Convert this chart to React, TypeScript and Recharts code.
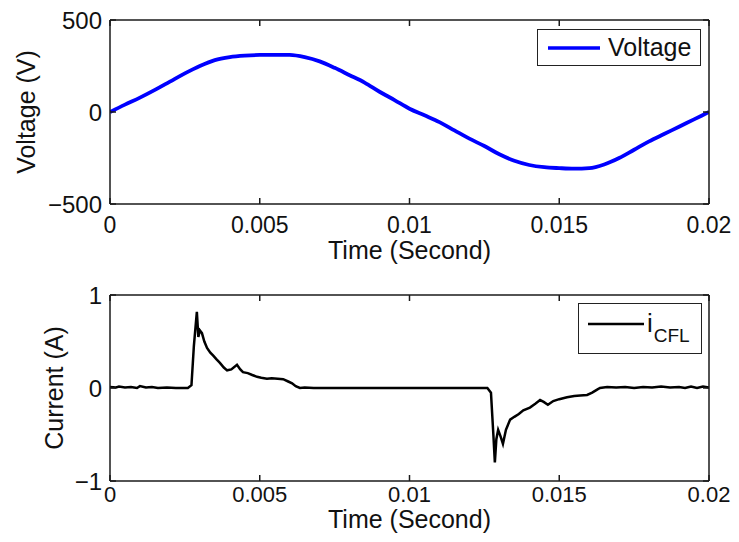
import React from 'react';
import { LineChart, Line, XAxis, YAxis, Legend } from 'recharts';

const timeTicks = [0, 0.005, 0.01, 0.015, 0.02];
const voltageTicks = [-500, 0, 500];
const currentTicks = [-1, 0, 1];

const voltageTime = [
  0, 0.0005, 0.001, 0.0015, 0.002, 0.0025, 0.003, 0.0035, 0.004, 0.0045,
  0.005, 0.0055, 0.006, 0.0065, 0.007, 0.0075, 0.008, 0.0085, 0.009, 0.0095,
  0.01, 0.0105, 0.011, 0.0115, 0.012, 0.0125, 0.013, 0.0135, 0.014, 0.0145,
  0.015, 0.0155, 0.016, 0.0165, 0.017, 0.0175, 0.018, 0.0185, 0.019, 0.0195, 0.02,
];
const voltageValues = [
  0, 40, 78, 120, 165, 210, 250, 282, 298, 306,
  310, 311, 310, 298, 275, 240, 200, 160, 110, 65,
  18, -18, -55, -100, -145, -185, -230, -265, -288, -300,
  -305, -308, -305, -285, -250, -205, -160, -120, -80, -40, 0,
];

const currentTime = [
  0, 0.0002, 0.0003, 0.0005, 0.0007, 0.0009, 0.001, 0.0012, 0.0014, 0.0016,
  0.0019, 0.0022, 0.0026, 0.00272, 0.0028, 0.0029, 0.00295, 0.003, 0.00307, 0.00315,
  0.00324, 0.00335, 0.00344, 0.00355, 0.00367, 0.0038, 0.00391, 0.00405, 0.00424, 0.00435,
  0.00444, 0.0046, 0.00475, 0.00491, 0.00505, 0.00524, 0.0054, 0.0056, 0.00578, 0.00595,
  0.00608, 0.0062, 0.00634, 0.0065, 0.0068, 0.0075, 0.01, 0.0126, 0.01272, 0.0128,
  0.01285, 0.0129, 0.01296, 0.01304, 0.01312, 0.01322, 0.01336, 0.0135, 0.01365, 0.0138,
  0.01402, 0.0142, 0.01436, 0.01448, 0.01462, 0.0148, 0.015, 0.01526, 0.0155, 0.0157,
  0.01593, 0.0161, 0.01625, 0.01636, 0.0166, 0.0169, 0.0172, 0.0175, 0.0178, 0.0181,
  0.0184, 0.0187, 0.019, 0.0192, 0.0194, 0.0196, 0.0198, 0.02,
];
const currentValues = [
  0.01, 0.005, 0.015, 0.005, 0.01, 0.0, 0.02, 0.005, 0.01, 0.0,
  0.005, 0.0, 0.0, 0.03, 0.45, 0.82, 0.55, 0.62, 0.59, 0.5,
  0.43, 0.38, 0.35, 0.31, 0.27, 0.22, 0.19, 0.2, 0.25, 0.2,
  0.17, 0.16, 0.14, 0.12, 0.11, 0.1, 0.105, 0.1, 0.095, 0.07,
  0.05, 0.02, 0.0, 0.005, 0.0, 0.0, 0.0, 0.0, -0.05, -0.5,
  -0.8, -0.55, -0.45, -0.52, -0.6, -0.45, -0.34, -0.31, -0.28, -0.24,
  -0.21, -0.17, -0.13, -0.15, -0.18, -0.14, -0.12, -0.1, -0.085, -0.08,
  -0.075, -0.05, -0.02, 0.0, 0.01, 0.005, 0.01, 0.0, 0.01, 0.005,
  0.015, 0.005, 0.01, 0.0, 0.015, 0.0, 0.015, 0.005,
];

const voltageData = voltageTime.map((t, k) => ({ t, v: voltageValues[k] }));
const currentData = currentTime.map((t, k) => ({ t, i: currentValues[k] }));

const FONT = '"Liberation Sans", Arial, Helvetica, sans-serif';
const AXIS = '#1a1a1a';
const TEXT = '#111';

const fmtX = (v: number) => String(v);
const fmtY = (v: number) => (v < 0 ? '\u2212' + Math.abs(v) : String(v));
const blank = () => '';

const yTitle = (text: string, cx: number) => (props: any) => {
  const vb = props.viewBox || {};
  const cy = (vb.y || 0) + (vb.height || 0) / 2;
  return (
    <text
      x={cx}
      y={cy}
      transform={`rotate(-90 ${cx} ${cy})`}
      textAnchor="middle"
      dominantBaseline="central"
      fontSize={25}
      fill={TEXT}
      fontFamily={FONT}
    >
      {text}
    </text>
  );
};

const VoltageLegend = () => (
  <div
    style={{
      width: 164,
      height: 37,
      border: '1.5px solid #222',
      background: '#fff',
      display: 'flex',
      alignItems: 'center',
      boxSizing: 'border-box',
      fontFamily: FONT,
    }}
  >
    <svg width={70} height={20} style={{ display: 'block' }}>
      <line x1={10} y1={10} x2={62} y2={10} stroke="#0000ff" strokeWidth={3.5} />
    </svg>
    <span style={{ fontSize: 25, color: TEXT, lineHeight: '25px' }}>Voltage</span>
  </div>
);

const CurrentLegend = () => (
  <div
    style={{
      width: 124,
      height: 51,
      border: '1.5px solid #222',
      background: '#fff',
      display: 'flex',
      alignItems: 'center',
      boxSizing: 'border-box',
      fontFamily: FONT,
    }}
  >
    <svg width={68} height={20} style={{ display: 'block' }}>
      <line x1={9} y1={5} x2={65} y2={5} stroke="#000" strokeWidth={2.5} />
    </svg>
    <span style={{ fontSize: 26, color: TEXT, lineHeight: '26px', marginTop: -8, whiteSpace: 'nowrap' }}>
      i
      <span style={{ fontSize: 19, position: 'relative', top: 10, marginLeft: 1 }}>CFL</span>
    </span>
  </div>
);

export default function App() {
  return (
    <div
      style={{
        position: 'absolute',
        left: 0,
        top: 0,
        width: 739,
        height: 542,
        background: '#fff',
        fontFamily: FONT,
      }}
    >
      <div style={{ position: 'absolute', left: 0, top: 0 }}>
        <LineChart width={739} height={270} data={voltageData} margin={{ top: 19, right: 29, bottom: 0, left: 0 }}>
          <XAxis
            dataKey="t"
            type="number"
            domain={[0, 0.02]}
            allowDataOverflow
            ticks={timeTicks}
            tickFormatter={fmtX}
            height={66}
            tickSize={-6}
            tickMargin={19}
            stroke={AXIS}
            strokeWidth={1.5}
            tick={{ fontSize: 23, fill: TEXT }}
            label={{ value: 'Time (Second)', position: 'insideBottom', offset: 11, fontSize: 25, fill: TEXT }}
          />
          <XAxis
            xAxisId="top"
            dataKey="t"
            orientation="top"
            type="number"
            domain={[0, 0.02]}
            allowDataOverflow
            ticks={timeTicks}
            tickFormatter={blank}
            height={1}
            tickSize={-6}
            stroke={AXIS}
            strokeWidth={1.5}
          />
          <YAxis
            type="number"
            domain={[-500, 500]}
            allowDataOverflow
            ticks={voltageTicks}
            tickFormatter={fmtY}
            width={110}
            tickSize={-6}
            tickMargin={14}
            stroke={AXIS}
            strokeWidth={1.5}
            tick={{ fontSize: 24, fill: TEXT }}
            label={{ content: yTitle('Voltage (V)', 26) }}
          />
          <YAxis
            yAxisId="right"
            orientation="right"
            type="number"
            domain={[-500, 500]}
            allowDataOverflow
            ticks={voltageTicks}
            tickFormatter={blank}
            width={1}
            tickSize={-6}
            stroke={AXIS}
            strokeWidth={1.5}
          />
          <Legend
            layout="horizontal"
            verticalAlign="middle"
            align="center"
            content={VoltageLegend}
            wrapperStyle={{ left: 537, top: 29, width: 164, height: 37 }}
          />
          <Line
            type="monotone"
            dataKey="v"
            name="Voltage"
            stroke="#0000ff"
            strokeWidth={3.8}
            dot={false}
            isAnimationActive={false}
          />
        </LineChart>
      </div>
      <div style={{ position: 'absolute', left: 0, top: 270 }}>
        <LineChart width={739} height={272} data={currentData} margin={{ top: 24, right: 29, bottom: 0, left: 0 }}>
          <XAxis
            dataKey="t"
            type="number"
            domain={[0, 0.02]}
            allowDataOverflow
            ticks={timeTicks}
            tickFormatter={fmtX}
            height={61}
            tickSize={-6}
            tickMargin={11}
            stroke={AXIS}
            strokeWidth={1.5}
            tick={{ fontSize: 22, fill: TEXT }}
            label={{ value: 'Time (Second)', position: 'insideBottom', offset: 14, fontSize: 25, fill: TEXT }}
          />
          <XAxis
            xAxisId="top"
            dataKey="t"
            orientation="top"
            type="number"
            domain={[0, 0.02]}
            allowDataOverflow
            ticks={timeTicks}
            tickFormatter={blank}
            height={1}
            tickSize={-6}
            stroke={AXIS}
            strokeWidth={1.5}
          />
          <YAxis
            type="number"
            domain={[-1, 1]}
            allowDataOverflow
            ticks={currentTicks}
            tickFormatter={fmtY}
            width={110}
            tickSize={-6}
            tickMargin={14}
            stroke={AXIS}
            strokeWidth={1.5}
            tick={{ fontSize: 24, fill: TEXT }}
            label={{ content: yTitle('Current (A)', 54) }}
          />
          <YAxis
            yAxisId="right"
            orientation="right"
            type="number"
            domain={[-1, 1]}
            allowDataOverflow
            ticks={currentTicks}
            tickFormatter={blank}
            width={1}
            tickSize={-6}
            stroke={AXIS}
            strokeWidth={1.5}
          />
          <Legend
            layout="horizontal"
            verticalAlign="middle"
            align="center"
            content={CurrentLegend}
            wrapperStyle={{ left: 578, top: 33, width: 124, height: 51 }}
          />
          <Line
            type="linear"
            dataKey="i"
            name="iCFL"
            stroke="#000"
            strokeWidth={2.5}
            dot={false}
            isAnimationActive={false}
          />
        </LineChart>
      </div>
    </div>
  );
}
